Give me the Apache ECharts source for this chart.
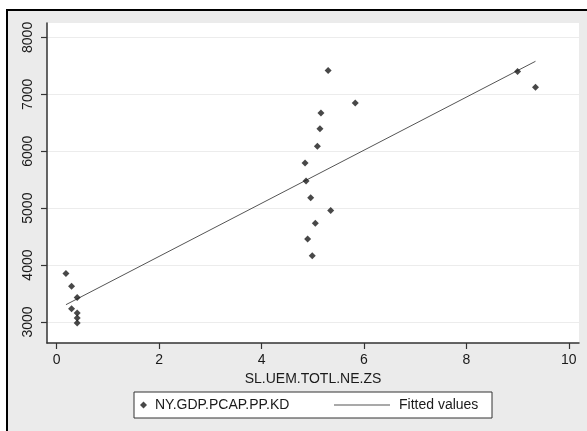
<!DOCTYPE html>
<html>
<head>
<meta charset="utf-8">
<script src="https://cdn.jsdelivr.net/npm/echarts@6/dist/echarts.min.js"></script>
<style>
html,body{margin:0;padding:0;width:587px;height:431px;overflow:hidden;background:#fff;}
#chart{position:absolute;left:0;top:0;width:587px;height:431px;}
</style>
</head>
<body>
<div id="chart"></div>
<script>
// Data
const unemploymentRate = [0.18, 0.29, 0.40, 0.29, 0.40, 0.40, 0.40,
  5.30, 9.00, 9.35, 5.83, 5.16, 5.14, 5.09, 4.85, 4.87, 4.96, 5.35, 5.05, 4.90, 4.99];
const gdpPerCapita = [3854, 3626, 3432, 3234, 3160, 3070, 2982,
  7417, 7399, 7123, 6849, 6673, 6397, 6086, 5794, 5478, 5185, 4961, 4733, 4459, 4165];
const fittedX = [0.18, 9.35];
const fittedY = [3304, 7580];
const xTicks = [0, 2, 4, 6, 8, 10];
const yTicks = [3000, 4000, 5000, 6000, 7000, 8000];
const xTitle = 'SL.UEM.TOTL.NE.ZS';
const scatterName = 'NY.GDP.PCAP.PP.KD';
const lineName = 'Fitted values';

const scatterData = unemploymentRate.map((x, i) => [x, gdpPerCapita[i]]);
const lineData = fittedX.map((x, i) => [x, fittedY[i]]);

const chart = echarts.init(document.getElementById('chart'), null, {renderer: 'canvas'});
const font = 'Liberation Sans, Arial, sans-serif';
chart.setOption({
  backgroundColor: '#ffffff',
  animation: false,
  textStyle: {fontFamily: font},
  grid: {left: 47, top: 23, right: 8, bottom: 88, show: true, backgroundColor: '#ffffff', borderWidth: 0, z: 0},
  graphic: [{
    type: 'rect', shape: {x: 7, y: 10, width: 640, height: 480},
    style: {fill: '#ebebeb', stroke: '#000000', lineWidth: 2}, z: -100, silent: true
  }, {
    type: 'rect', shape: {x: 134, y: 392, width: 358, height: 26},
    style: {fill: '#ffffff', stroke: '#333333', lineWidth: 1}, z: 1
  }],
  xAxis: {
    type: 'value', min: -0.19, max: 10.2,
    name: xTitle, nameLocation: 'middle', nameGap: 26,
    nameTextStyle: {fontFamily: font, fontSize: 14, color: '#1a1a1a'},
    axisLine: {show: true, onZero: false, lineStyle: {color: '#333', width: 1.5}},
    axisTick: {show: true, length: 6, customValues: xTicks, lineStyle: {color: '#333', width: 1.2}},
    axisLabel: {customValues: xTicks, margin: 10, fontSize: 14, color: '#1a1a1a', fontFamily: font,
      formatter: v => String(v)},
    splitLine: {show: false}
  },
  yAxis: {
    type: 'value', min: 2631, max: 8253,
    axisLine: {show: true, onZero: false, lineStyle: {color: '#333', width: 1.5}},
    axisTick: {show: true, length: 6, customValues: yTicks, lineStyle: {color: '#333', width: 1.2}},
    axisLabel: {customValues: yTicks, rotate: 90, margin: 12, fontSize: 14, color: '#1a1a1a', fontFamily: font,
      formatter: v => String(v)},
    splitLine: {show: true, lineStyle: {color: '#ececec', width: 1}}
  },
  legend: [{
    data: [{name: scatterName, icon: 'diamond'}],
    left: 140, top: 398, itemWidth: 7, itemHeight: 7, padding: 0,
    textStyle: {fontFamily: font, fontSize: 14, color: '#1a1a1a', padding: [0, 0, 0, 3]},
    selectedMode: false, z: 5
  }, {
    data: [{name: lineName, icon: 'rect', itemStyle: {color: '#555555'}}],
    left: 334, top: 398, itemWidth: 56, itemHeight: 1, padding: 0,
    textStyle: {fontFamily: font, fontSize: 14, color: '#1a1a1a', padding: [0, 0, 0, 4]},
    selectedMode: false, z: 5
  }],
  series: [{
    name: scatterName, type: 'scatter', data: scatterData,
    symbol: 'diamond', symbolSize: 7,
    itemStyle: {color: '#1a1a1a'}, z: 3
  }, {
    name: lineName, type: 'line', data: lineData,
    showSymbol: false, symbol: 'none',
    lineStyle: {color: '#555555', width: 1}, itemStyle: {color: '#555555'}, z: 2
  }]
});
</script>
</body>
</html>
